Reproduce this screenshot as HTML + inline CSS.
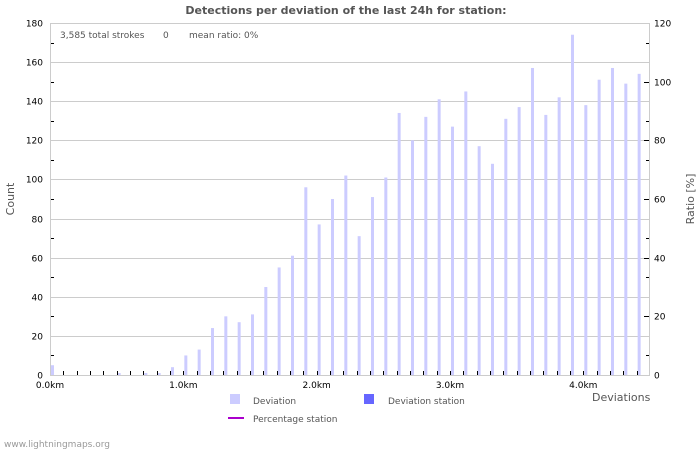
<!DOCTYPE html>
<html><head><meta charset="utf-8"><style>
body{margin:0;background:#fff;width:700px;height:450px;overflow:hidden}
svg text{font-family:"DejaVu Sans","Liberation Sans",sans-serif}
</style></head><body>
<svg id="s" width="700" height="450" xmlns="http://www.w3.org/2000/svg">
<rect width="700" height="450" fill="#fff"/>
<text x="346" y="14" text-anchor="middle" font-size="11" font-weight="bold" fill="#555">Detections per deviation of the last 24h for station:</text>
<g id="grid"></g>
<rect x="50.5" y="23.5" width="599" height="352" fill="none" stroke="#ccc"/>
<text x="60" y="38" font-size="9" fill="#555">3,585 total strokes</text>
<text x="163" y="38" font-size="9" fill="#555">0</text>
<text x="189" y="38" font-size="9" fill="#555">mean ratio: 0%</text>
<g id="bars"></g>
<text x="14" y="199" font-size="11" fill="#555" text-anchor="middle" transform="rotate(-90 14 199)">Count</text>
<text x="694" y="199" font-size="11" fill="#555" text-anchor="middle" transform="rotate(-90 694 199)">Ratio [%]</text>
<text x="592" y="401" font-size="11" fill="#555">Deviations</text>
<rect x="230" y="394" width="10" height="10" fill="#ccf"/>
<text x="253" y="404" font-size="9" fill="#555">Deviation</text>
<rect x="364" y="394" width="10" height="10" fill="#66f"/>
<text x="388" y="404" font-size="9" fill="#555">Deviation station</text>
<line x1="228" y1="418" x2="244" y2="418" stroke="#a0c" stroke-width="2"/>
<text x="253" y="422" font-size="9" fill="#555">Percentage station</text>
<text x="4" y="447" font-size="9" fill="#999">www.lightningmaps.org</text>
</svg>
<script>
var ns="http://www.w3.org/2000/svg",g=document.getElementById('grid'),b=document.getElementById('bars');
function el(p,t,a,txt){var e=document.createElementNS(ns,t);for(var k in a)e.setAttribute(k,a[k]);if(txt!=null)e.textContent=txt;p.appendChild(e);return e;}
var y0=375,sc=352/180;
for(var v=0;v<=180;v+=10){var y=Math.round(y0-v*sc)+0.5;
 if(v%20==0){if(v>0&&v<180)el(g,'line',{x1:50,x2:650,y1:y,y2:y,stroke:'#ccc'});
  el(g,'text',{x:43,y:y+3,'font-size':9,'text-anchor':'end',fill:'#000'},v);}
 else{el(g,'line',{x1:50,x2:54,y1:y,y2:y,stroke:'#000'});el(g,'line',{x1:646,x2:650,y1:y,y2:y,stroke:'#000'});}
}
for(var r=0;r<=120;r+=20){var y=Math.round(y0-r*352/120)+0.5;el(g,'line',{x1:644,x2:650,y1:y,y2:y,stroke:'#000'});
 el(g,'text',{x:654,y:y+3,'font-size':9,fill:'#000'},r);}
var d=[5,0,0,0,0,1,0,1,1,4,10,13,24,30,27,31,45,55,61,96,77,90,102,71,91,101,134,120,132,141,127,145,117,108,131,137,157,133,142,174,138,151,157,149,154];
for(var i=0;i<d.length;i++){var x=50+i*13.333;
 if(d[i]>0){var h=d[i]*sc;el(b,'rect',{x:x+1,y:y0-h,width:3,height:h,fill:'#ccf'});}
 if(i>0)el(b,'line',{x1:Math.round(x)+0.5,x2:Math.round(x)+0.5,y1:371,y2:375,stroke:'#000'});
}
for(var k=0;k<=4;k++){var x=50+k*133.33;el(b,'text',{x:x,y:388,'font-size':9,'text-anchor':'middle',fill:'#000'},k+'.0km');}
</script>
</body></html>
